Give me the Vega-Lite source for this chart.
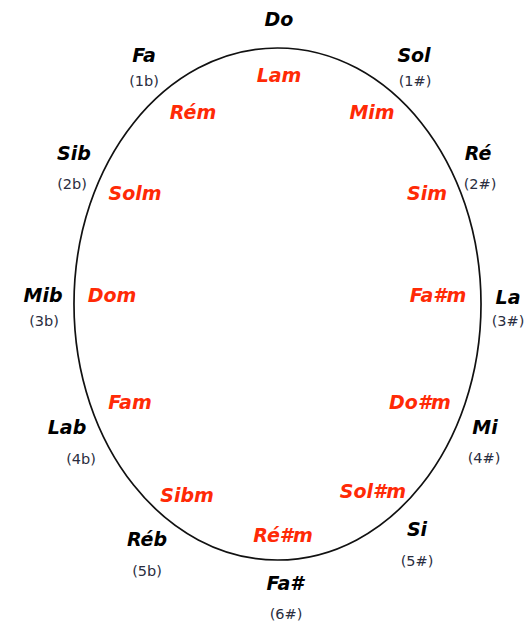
{
  "$schema": "https://vega.github.io/schema/vega-lite/v6.json",
  "width": 527,
  "height": 625,
  "autosize": {"type": "fit", "contains": "padding"},
  "padding": 0,
  "background": "white",
  "config": {"view": {"stroke": null}},
  "datasets": {
    "ring": [{"x": 0, "y": 0}],
    "major": [
      {"label": "Do", "x": 1.5, "y": 284},
      {"label": "Sol", "x": 136.5, "y": 248},
      {"label": "Ré", "x": 200.5, "y": 150},
      {"label": "La", "x": 230.5, "y": 6},
      {"label": "Mi", "x": 207.5, "y": -124},
      {"label": "Si", "x": 139.5, "y": -226},
      {"label": "Fa#", "x": 7.5, "y": -280},
      {"label": "Réb", "x": -130.5, "y": -236},
      {"label": "Lab", "x": -210.5, "y": -124},
      {"label": "Mib", "x": -234.5, "y": 8},
      {"label": "Sib", "x": -203.5, "y": 150},
      {"label": "Fa", "x": -133.5, "y": 248}
    ],
    "sig": [
      {"label": "(1#)", "x": 137.5, "y": 222},
      {"label": "(2#)", "x": 202.5, "y": 119},
      {"label": "(3#)", "x": 230.5, "y": -18},
      {"label": "(4#)", "x": 206.5, "y": -155},
      {"label": "(5#)", "x": 139.5, "y": -258},
      {"label": "(6#)", "x": 8.5, "y": -311},
      {"label": "(5b)", "x": -130.5, "y": -268},
      {"label": "(4b)", "x": -196.5, "y": -156},
      {"label": "(3b)", "x": -233.5, "y": -18},
      {"label": "(2b)", "x": -205.5, "y": 119},
      {"label": "(1b)", "x": -133.5, "y": 222}
    ],
    "minor": [
      {"label": "Lam", "x": 1.5, "y": 228},
      {"label": "Mim", "x": 94.5, "y": 191},
      {"label": "Sim", "x": 149.5, "y": 110},
      {"label": "Fa#m", "x": 160.5, "y": 8},
      {"label": "Do#m", "x": 142.5, "y": -99},
      {"label": "Sol#m", "x": 95.5, "y": -188},
      {"label": "Ré#m", "x": 5.5, "y": -232},
      {"label": "Sibm", "x": -90.5, "y": -192},
      {"label": "Fam", "x": -147.5, "y": -99},
      {"label": "Dom", "x": -165.5, "y": 8},
      {"label": "Solm", "x": -142.5, "y": 110},
      {"label": "Rém", "x": -84.5, "y": 191}
    ]
  },
  "encoding": {
    "x": {"field": "x", "type": "quantitative", "scale": {"domain": [-277.5, 249.5], "nice": false, "zero": false}, "axis": null},
    "y": {"field": "y", "type": "quantitative", "scale": {"domain": [-321, 304], "nice": false, "zero": false}, "axis": null}
  },
  "layer": [
    {
      "data": {"name": "ring"},
      "mark": {
        "type": "point",
        "shape": "M -0.795 0 A 0.795 1 0 1 1 0.795 0 A 0.795 1 0 1 1 -0.795 0 Z",
        "filled": false,
        "stroke": "#111111",
        "strokeWidth": 1.7,
        "opacity": 1,
        "size": 262144
      }
    },
    {
      "data": {"name": "major"},
      "mark": {"type": "text", "font": "DejaVu Sans", "fontSize": 19, "fontWeight": "bold", "fontStyle": "italic", "color": "#000000", "align": "center", "baseline": "middle"},
      "encoding": {"text": {"field": "label"}}
    },
    {
      "data": {"name": "sig"},
      "mark": {"type": "text", "font": "DejaVu Sans", "fontSize": 14.5, "color": "#2a2d40", "align": "center", "baseline": "middle"},
      "encoding": {"text": {"field": "label"}}
    },
    {
      "data": {"name": "minor"},
      "mark": {"type": "text", "font": "DejaVu Sans", "fontSize": 19, "fontWeight": "bold", "fontStyle": "italic", "color": "#ff2a06", "align": "center", "baseline": "middle"},
      "encoding": {"text": {"field": "label"}}
    }
  ]
}
